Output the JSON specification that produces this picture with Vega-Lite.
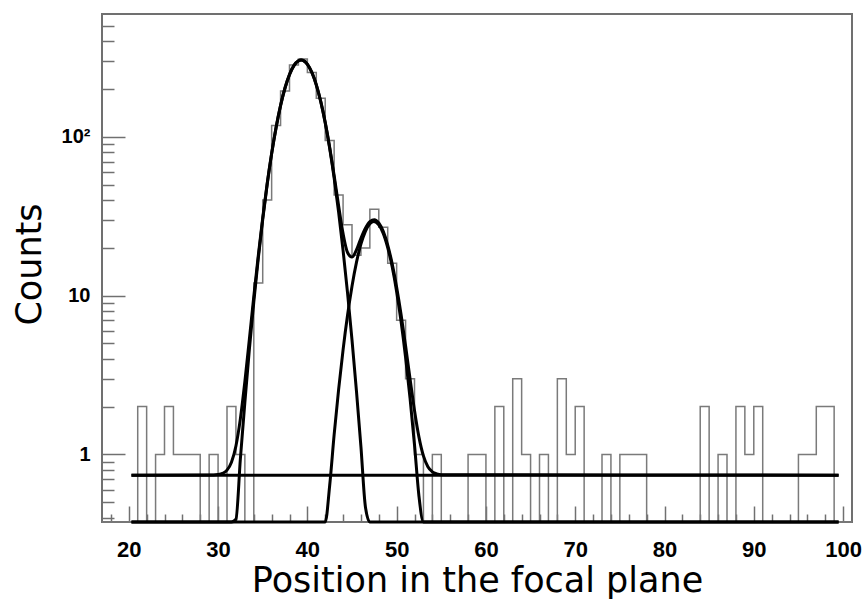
{
  "$schema": "https://vega.github.io/schema/vega-lite/v6.json",
  "width": 750,
  "height": 508,
  "autosize": {"type": "none"},
  "padding": {"left": 102, "top": 14, "right": 10, "bottom": 78},
  "background": "white",
  "config": {
    "view": {"stroke": "#707070", "strokeWidth": 2},
    "axis": {"grid": false, "domain": false}
  },
  "datasets": {
    "hist": [
      {"x": 17, "count": 0}, {"x": 18, "count": 0}, {"x": 19, "count": 0}, {"x": 20, "count": 0},
      {"x": 21, "count": 2}, {"x": 22, "count": 0}, {"x": 23, "count": 1}, {"x": 24, "count": 2},
      {"x": 25, "count": 1}, {"x": 26, "count": 1}, {"x": 27, "count": 1}, {"x": 28, "count": 0},
      {"x": 29, "count": 1}, {"x": 30, "count": 0}, {"x": 31, "count": 2}, {"x": 32, "count": 1},
      {"x": 33, "count": 0}, {"x": 34, "count": 12}, {"x": 35, "count": 40}, {"x": 36, "count": 118},
      {"x": 37, "count": 195}, {"x": 38, "count": 284}, {"x": 39, "count": 310}, {"x": 40, "count": 255},
      {"x": 41, "count": 175}, {"x": 42, "count": 95}, {"x": 43, "count": 43}, {"x": 44, "count": 28},
      {"x": 45, "count": 18}, {"x": 46, "count": 20}, {"x": 47, "count": 35}, {"x": 48, "count": 27},
      {"x": 49, "count": 16}, {"x": 50, "count": 7}, {"x": 51, "count": 3}, {"x": 52, "count": 1},
      {"x": 53, "count": 0}, {"x": 54, "count": 1}, {"x": 55, "count": 0}, {"x": 56, "count": 0},
      {"x": 57, "count": 0}, {"x": 58, "count": 1}, {"x": 59, "count": 1}, {"x": 60, "count": 0},
      {"x": 61, "count": 2}, {"x": 62, "count": 0}, {"x": 63, "count": 3}, {"x": 64, "count": 1},
      {"x": 65, "count": 0}, {"x": 66, "count": 1}, {"x": 67, "count": 0}, {"x": 68, "count": 3},
      {"x": 69, "count": 1}, {"x": 70, "count": 2}, {"x": 71, "count": 0}, {"x": 72, "count": 0},
      {"x": 73, "count": 1}, {"x": 74, "count": 0}, {"x": 75, "count": 1}, {"x": 76, "count": 1},
      {"x": 77, "count": 1}, {"x": 78, "count": 0}, {"x": 79, "count": 0}, {"x": 80, "count": 0},
      {"x": 81, "count": 0}, {"x": 82, "count": 0}, {"x": 83, "count": 0}, {"x": 84, "count": 2},
      {"x": 85, "count": 0}, {"x": 86, "count": 1}, {"x": 87, "count": 0}, {"x": 88, "count": 2},
      {"x": 89, "count": 1}, {"x": 90, "count": 2}, {"x": 91, "count": 0}, {"x": 92, "count": 0},
      {"x": 93, "count": 0}, {"x": 94, "count": 0}, {"x": 95, "count": 1}, {"x": 96, "count": 1},
      {"x": 97, "count": 2}, {"x": 98, "count": 2}, {"x": 99, "count": 0}, {"x": 100, "count": 0},
      {"x": 101, "count": 0}
    ],
    "fit": [
      {"curve": "total", "x": 20.3, "y": 0.74}, {"curve": "total", "x": 29.5, "y": 0.742},
      {"curve": "total", "x": 30.0, "y": 0.746}, {"curve": "total", "x": 30.5, "y": 0.759},
      {"curve": "total", "x": 31.0, "y": 0.796}, {"curve": "total", "x": 31.5, "y": 0.892},
      {"curve": "total", "x": 32.0, "y": 1.13}, {"curve": "total", "x": 32.5, "y": 1.68},
      {"curve": "total", "x": 33.0, "y": 2.87}, {"curve": "total", "x": 33.5, "y": 5.29},
      {"curve": "total", "x": 34.0, "y": 9.85}, {"curve": "total", "x": 34.5, "y": 17.8},
      {"curve": "total", "x": 35.0, "y": 30.9}, {"curve": "total", "x": 35.5, "y": 50.9},
      {"curve": "total", "x": 36.0, "y": 78.9}, {"curve": "total", "x": 36.5, "y": 115.2},
      {"curve": "total", "x": 37.0, "y": 158.1}, {"curve": "total", "x": 37.5, "y": 204.1},
      {"curve": "total", "x": 38.0, "y": 247.6}, {"curve": "total", "x": 38.5, "y": 282.2},
      {"curve": "total", "x": 39.0, "y": 302.3}, {"curve": "total", "x": 39.3, "y": 305.7},
      {"curve": "total", "x": 39.5, "y": 304.2}, {"curve": "total", "x": 40.0, "y": 287.6},
      {"curve": "total", "x": 40.5, "y": 255.5}, {"curve": "total", "x": 41.0, "y": 213.4},
      {"curve": "total", "x": 41.5, "y": 167.5}, {"curve": "total", "x": 42.0, "y": 123.6},
      {"curve": "total", "x": 42.5, "y": 86.2}, {"curve": "total", "x": 43.0, "y": 57.2},
      {"curve": "total", "x": 43.5, "y": 36.9}, {"curve": "total", "x": 44.0, "y": 24.6},
      {"curve": "total", "x": 44.5, "y": 18.7}, {"curve": "total", "x": 45.0, "y": 17.5},
      {"curve": "total", "x": 45.5, "y": 19.4}, {"curve": "total", "x": 46.0, "y": 23.0},
      {"curve": "total", "x": 46.5, "y": 26.6}, {"curve": "total", "x": 47.0, "y": 29.3},
      {"curve": "total", "x": 47.5, "y": 30.1}, {"curve": "total", "x": 48.0, "y": 28.7},
      {"curve": "total", "x": 48.5, "y": 25.4}, {"curve": "total", "x": 49.0, "y": 20.8},
      {"curve": "total", "x": 49.5, "y": 15.9}, {"curve": "total", "x": 50.0, "y": 11.3},
      {"curve": "total", "x": 50.5, "y": 7.59}, {"curve": "total", "x": 51.0, "y": 4.83},
      {"curve": "total", "x": 51.5, "y": 3.0}, {"curve": "total", "x": 52.0, "y": 1.89},
      {"curve": "total", "x": 52.5, "y": 1.285}, {"curve": "total", "x": 53.0, "y": 0.978},
      {"curve": "total", "x": 53.5, "y": 0.836}, {"curve": "total", "x": 54.0, "y": 0.776},
      {"curve": "total", "x": 54.5, "y": 0.753}, {"curve": "total", "x": 55.0, "y": 0.744},
      {"curve": "total", "x": 99.5, "y": 0.74},

      {"curve": "g1", "x": 20.3, "y": 8e-18}, {"curve": "g1", "x": 29.5, "y": 0.0019},
      {"curve": "g1", "x": 30.0, "y": 0.0062}, {"curve": "g1", "x": 30.5, "y": 0.0191},
      {"curve": "g1", "x": 31.0, "y": 0.0556}, {"curve": "g1", "x": 31.5, "y": 0.152},
      {"curve": "g1", "x": 32.0, "y": 0.39}, {"curve": "g1", "x": 32.5, "y": 0.942},
      {"curve": "g1", "x": 33.0, "y": 2.13}, {"curve": "g1", "x": 33.5, "y": 4.55},
      {"curve": "g1", "x": 34.0, "y": 9.11}, {"curve": "g1", "x": 34.5, "y": 17.1},
      {"curve": "g1", "x": 35.0, "y": 30.2}, {"curve": "g1", "x": 35.5, "y": 50.2},
      {"curve": "g1", "x": 36.0, "y": 78.2}, {"curve": "g1", "x": 36.5, "y": 114.5},
      {"curve": "g1", "x": 37.0, "y": 157.4}, {"curve": "g1", "x": 37.5, "y": 203.4},
      {"curve": "g1", "x": 38.0, "y": 246.9}, {"curve": "g1", "x": 38.5, "y": 281.5},
      {"curve": "g1", "x": 39.0, "y": 301.6}, {"curve": "g1", "x": 39.3, "y": 305},
      {"curve": "g1", "x": 39.5, "y": 303.5}, {"curve": "g1", "x": 40.0, "y": 286.9},
      {"curve": "g1", "x": 40.5, "y": 254.8}, {"curve": "g1", "x": 41.0, "y": 212.6},
      {"curve": "g1", "x": 41.5, "y": 166.6}, {"curve": "g1", "x": 42.0, "y": 122.6},
      {"curve": "g1", "x": 42.5, "y": 84.8}, {"curve": "g1", "x": 43.0, "y": 55.1},
      {"curve": "g1", "x": 43.5, "y": 33.6}, {"curve": "g1", "x": 44.0, "y": 19.3},
      {"curve": "g1", "x": 44.5, "y": 10.4}, {"curve": "g1", "x": 45.0, "y": 5.26},
      {"curve": "g1", "x": 45.5, "y": 2.5}, {"curve": "g1", "x": 46.0, "y": 1.12},
      {"curve": "g1", "x": 46.5, "y": 0.468}, {"curve": "g1", "x": 47.0, "y": 0.185},
      {"curve": "g1", "x": 47.5, "y": 0.068}, {"curve": "g1", "x": 48.0, "y": 0.0238},
      {"curve": "g1", "x": 49.0, "y": 0.0024}, {"curve": "g1", "x": 99.5, "y": 1e-195},

      {"curve": "g2", "x": 20.3, "y": 3.5e-49}, {"curve": "g2", "x": 40.5, "y": 0.0154},
      {"curve": "g2", "x": 41.0, "y": 0.044}, {"curve": "g2", "x": 41.5, "y": 0.116},
      {"curve": "g2", "x": 42.0, "y": 0.283}, {"curve": "g2", "x": 42.5, "y": 0.637},
      {"curve": "g2", "x": 43.0, "y": 1.33}, {"curve": "g2", "x": 43.5, "y": 2.56},
      {"curve": "g2", "x": 44.0, "y": 4.56}, {"curve": "g2", "x": 44.5, "y": 7.52},
      {"curve": "g2", "x": 45.0, "y": 11.47}, {"curve": "g2", "x": 45.5, "y": 16.2},
      {"curve": "g2", "x": 46.0, "y": 21.1}, {"curve": "g2", "x": 46.5, "y": 25.4},
      {"curve": "g2", "x": 47.0, "y": 28.4}, {"curve": "g2", "x": 47.45, "y": 29.3},
      {"curve": "g2", "x": 48.0, "y": 27.9}, {"curve": "g2", "x": 48.5, "y": 24.7},
      {"curve": "g2", "x": 49.0, "y": 20.1}, {"curve": "g2", "x": 49.5, "y": 15.2},
      {"curve": "g2", "x": 50.0, "y": 10.6}, {"curve": "g2", "x": 50.5, "y": 6.85},
      {"curve": "g2", "x": 51.0, "y": 4.09}, {"curve": "g2", "x": 51.5, "y": 2.26},
      {"curve": "g2", "x": 52.0, "y": 1.15}, {"curve": "g2", "x": 52.5, "y": 0.545},
      {"curve": "g2", "x": 53.0, "y": 0.238}, {"curve": "g2", "x": 53.5, "y": 0.096},
      {"curve": "g2", "x": 54.0, "y": 0.036}, {"curve": "g2", "x": 55.0, "y": 0.004},
      {"curve": "g2", "x": 99.5, "y": 1e-182},

      {"curve": "const", "x": 20.3, "y": 0.74}, {"curve": "const", "x": 99.5, "y": 0.74}
    ]
  },
  "layer": [
    {
      "data": {"name": "hist"},
      "mark": {"type": "line", "interpolate": "step-after", "color": "#7a7a7a", "strokeWidth": 1.5, "invalid": "show"},
      "encoding": {
        "x": {
          "field": "x", "type": "quantitative",
          "scale": {"domain": [17, 101], "nice": false, "zero": false},
          "axis": {
            "orient": "bottom",
            "values": [20, 30, 40, 50, 60, 70, 80, 90, 100],
            "offset": -16, "tickSize": 16, "tickColor": "#707070", "tickWidth": 1.5,
            "labelFont": "Liberation Sans", "labelFontWeight": "bold", "labelFontSize": 22,
            "labelColor": "#000000", "labelPadding": 17,
            "title": "Position in the focal plane",
            "titleFont": "DejaVu Sans", "titleFontSize": 35, "titleFontWeight": "normal",
            "titleColor": "#000000", "titleX": 375, "titleY": 85,
            "titleBaseline": "alphabetic", "titleAlign": "center", "titleAnchor": "middle"
          }
        },
        "y": {
          "field": "count", "type": "quantitative",
          "scale": {"type": "log", "domain": [0.375, 595], "nice": false, "clamp": true},
          "axis": {
            "orient": "left",
            "values": [1, 10, 100],
            "offset": -23, "tickSize": 23, "tickColor": "#707070", "tickWidth": 1.5,
            "labelExpr": "datum.value >= 100 ? '10²' : datum.value >= 10 ? '10' : '1'",
            "labelFont": "Liberation Sans", "labelFontWeight": "bold", "labelFontSize": 20,
            "labelColor": "#000000", "labelPadding": 12,
            "title": "Counts",
            "titleFont": "DejaVu Sans", "titleFontSize": 35, "titleFontWeight": "normal",
            "titleColor": "#000000", "titleAngle": 270, "titleX": -96, "titleY": 250,
            "titleBaseline": "middle", "titleAlign": "center"
          }
        }
      }
    },
    {
      "data": {"name": "fit"},
      "mark": {"type": "line", "interpolate": "monotone", "color": "#000000", "strokeWidth": 3},
      "encoding": {
        "detail": {"field": "curve", "type": "nominal"},
        "x": {
          "field": "x", "type": "quantitative",
          "scale": {"domain": [17, 101], "nice": false, "zero": false},
          "axis": {
            "orient": "bottom",
            "values": [18, 22, 24, 26, 28, 32, 34, 36, 38, 42, 44, 46, 48, 52, 54, 56, 58, 62, 64, 66, 68, 72, 74, 76, 78, 82, 84, 86, 88, 92, 94, 96, 98],
            "offset": -8, "tickSize": 8, "tickColor": "#707070", "tickWidth": 1.5,
            "labels": false, "title": null
          }
        },
        "y": {
          "field": "y", "type": "quantitative",
          "scale": {"type": "log", "domain": [0.375, 595], "nice": false, "clamp": true},
          "axis": {
            "orient": "left",
            "values": [0.4, 0.5, 0.6, 0.7, 0.8, 0.9, 2, 3, 4, 5, 6, 7, 8, 9, 20, 30, 40, 50, 60, 70, 80, 90, 200, 300, 400, 500],
            "offset": -12, "tickSize": 12, "tickColor": "#707070", "tickWidth": 1.5,
            "labels": false, "title": null
          }
        }
      }
    }
  ],
  "resolve": {"axis": {"x": "independent", "y": "independent"}}
}
